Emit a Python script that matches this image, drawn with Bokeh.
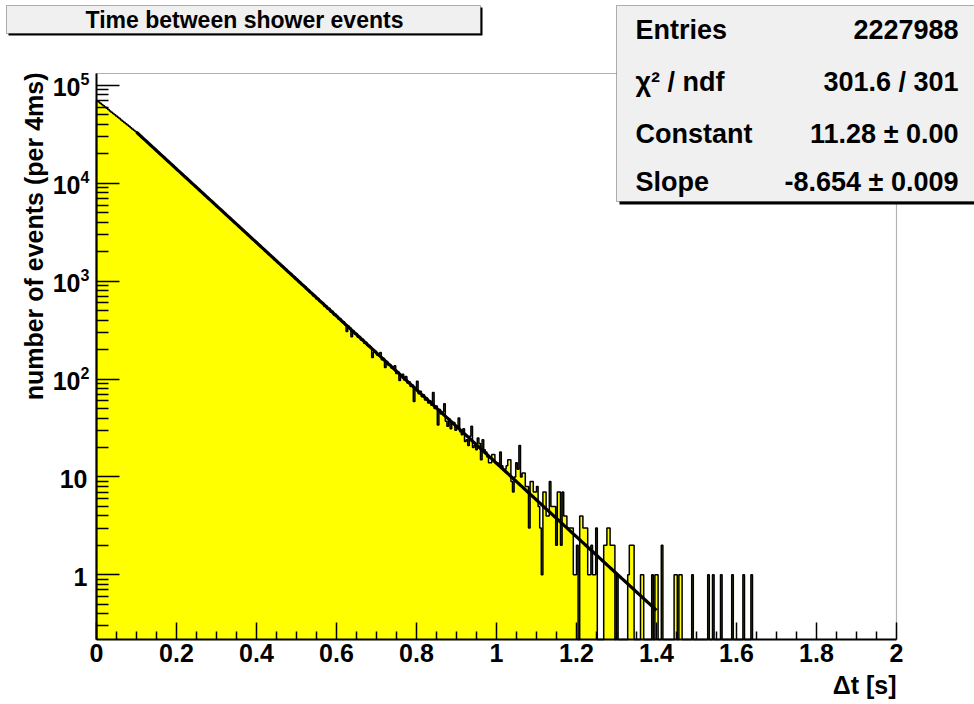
import math
import numpy as np
from bokeh.plotting import figure
from bokeh.models import Range1d, FixedTicker, Label, BoxAnnotation
from bokeh.embed import file_html
from bokeh.resources import INLINE

# ---------------------------------------------------------------- data
BIN_WIDTH = 0.004  # seconds per bin (4 ms)

# events per 4 ms bin, starting at dt = 0
counts = [
    70000, 67900, 65900, 63900, 62000, 60200, 58400, 56700, 55000, 53300,
    51800, 50200, 48700, 47300, 45900, 44500, 43200, 41900, 40700, 39500,
    38300, 37100, 36000, 34900, 33900, 32800, 31600, 30600, 29500, 28500,
    27560, 26640, 25710, 24850, 24000, 23190, 22380, 21640, 20890, 20190,
    19510, 18830, 18200, 17570, 16990, 16390, 15850, 15300, 14790, 14270,
    13800, 13320, 12880, 12430, 12020, 11600, 11210, 10820, 10460, 10100,
    9760, 9420, 9110, 8790, 8500, 8200, 7930, 7650, 7400, 7140,
    6900, 6670, 6440, 6220, 6010, 5800, 5610, 5410, 5240, 5050,
    4880, 4720, 4550, 4400, 4260, 4100, 3970, 3830, 3700, 3580,
    3450, 3340, 3220, 3110, 3010, 2900, 2810, 2710, 2620, 2530,
    2451, 2347, 2289, 2196, 2139, 2041, 1992, 1905, 1866, 1781,
    1735, 1652, 1627, 1549, 1518, 1440, 1411, 1349, 1322, 1254,
    1209, 1196, 1128, 1117, 1052, 1041, 983, 972, 915, 905,
    878, 821, 815, 767, 761, 712, 715, 664, 668, 621,
    605, 603, 556, 561, 520, 528, 484, 492, 451, 459,
    441, 409, 412, 383, 385, 357, 306, 347, 334, 270,
    312, 289, 293, 268, 272, 251, 255, 233, 238, 219,
    221, 213, 166, 188, 192, 176, 180, 187, 158, 162,
    131, 151, 139, 141, 130, 132, 137, 114, 119, 97,
    110, 112, 98, 106, 91, 94, 84, 87, 59, 81,
    95, 71, 75, 66, 69, 61, 64, 57, 60, 54,
    73, 50, 53, 34, 49, 44, 46, 56, 37, 33,
    39, 31, 35, 36, 30, 33, 40, 29, 27, 31,
    23, 24, 21, 26, 33, 20, 21, 19, 25, 22,
    15, 24, 19, 18, 16, 14, 14, 17, 17, 14,
    14, 13, 18, 13, 12, 12, 13, 15, 15, 9,
    7, 10, 14, 12, 21, 10, 11, 11, 8, 8,
    3, 9, 9, 7, 7, 8, 5, 3, 1, 7,
    7, 4, 4, 9, 5, 5, 5, 2, 7, 7,
    2, 7, 4, 4, 3, 3, 3, 3, 1, 1,
    2, 0, 4, 4, 3, 3, 3, 1, 1, 2,
    1, 1, 3, 0, 0, 0, 0, 2, 2, 3,
    3, 2, 2, 2, 0, 1, 0, 0, 0, 0,
    0, 0, 1, 2, 2, 2, 0, 0, 0, 0,
    1, 1, 0, 0, 0, 0, 0, 1, 0, 1,
    1, 0, 0, 2, 0, 0, 0, 0, 0, 0,
    0, 1, 1, 0, 1, 1, 0, 0, 0, 0,
    0, 0, 1, 0, 0, 0, 0, 0, 0, 0,
    0, 0, 1, 0, 0, 1, 0, 0, 0, 0,
    1, 0, 0, 0, 0, 0, 0, 1, 0, 0,
    0, 0, 0, 0, 1, 0, 0, 0, 0, 1,
]

# exponential fit: exp(constant + slope * dt), fitted over 0.1 .. 1.4 s
fit_constant = 11.28
fit_constant_err = 0.00
fit_slope = -8.654
fit_slope_err = 0.009
fit_range = (0.1, 1.4)
entries = 2227988
chi2 = 301.6
ndf = 301

x_ticks = [0, 0.2, 0.4, 0.6, 0.8, 1, 1.2, 1.4, 1.6, 1.8, 2]
x_tick_labels = ["0", "0.2", "0.4", "0.6", "0.8", "1", "1.2", "1.4", "1.6", "1.8", "2"]
y_decades = [0, 1, 2, 3, 4, 5]

title_text = "Time between shower events"
x_title = "\u0394t [s]"
y_title = "number of events (per 4ms)"

# ---------------------------------------------------------------- layout
W, H = 974, 704
FL, FR, FT, FB = 96, 896, 73, 639        # histogram frame in canvas pixels
X_MIN, X_MAX = 0.0, 2.0
Y_MIN, Y_MAX = 0.2183, 1.326e5
FONT = "Liberation Sans"

# The plotting area spans the whole canvas so that the pads drawn around
# the histogram frame (title, statistics box, axis titles) are not clipped.
x_per_px = (X_MAX - X_MIN) / (FR - FL)
dec_per_px = (math.log10(Y_MAX) - math.log10(Y_MIN)) / (FB - FT)
x_lo = X_MIN - FL * x_per_px
x_hi = X_MAX + (W - FR) * x_per_px
y_lo = 10 ** (math.log10(Y_MIN) - (H - FB) * dec_per_px)
y_hi = 10 ** (math.log10(Y_MAX) + FT * dec_per_px)


def sx(px):
    """canvas x pixel -> screen units"""
    return px


def sy(py):
    """canvas y pixel (from top) -> screen units (from bottom)"""
    return H - py


p = figure(
    width=W, height=H,
    x_range=Range1d(x_lo, x_hi), y_range=Range1d(y_lo, y_hi),
    y_axis_type="log",
    output_backend="svg", toolbar_location=None,
    min_border=0,
)
p.title.visible = False
p.background_fill_color = "white"
p.border_fill_color = "white"
p.grid.visible = False
p.outline_line_color = None

# ---------------------------------------------------------------- histogram
n = len(counts)
edges = X_MIN + np.arange(n + 1) * BIN_WIDTH
c = np.asarray(counts, dtype=float)
c_draw = np.where(c > 0, c, Y_MIN)        # empty bins drop to the frame floor
step_x = np.concatenate([[edges[0]], np.repeat(edges, 2)[1:-1], [edges[-1]]])
step_y = np.concatenate([[Y_MIN], np.repeat(c_draw, 2), [Y_MIN]])

p.patch(step_x, step_y, fill_color="#ffff00", line_color=None)
p.line(step_x, step_y, line_color="black", line_width=1.5)

# fit curve
fx = np.linspace(fit_range[0], fit_range[1], 300)
fy = np.exp(fit_constant + fit_slope * fx)
p.line(fx, fy, line_color="black", line_width=3.2)

# frame of the histogram pad
p.add_layout(BoxAnnotation(left=X_MIN, right=X_MAX, bottom=Y_MIN, top=Y_MAX,
                           fill_alpha=0, line_color="black", line_width=1.2))

# ---------------------------------------------------------------- axes
xa = p.xaxis[0]
xa.fixed_location = Y_MIN
xa.bounds = (X_MIN, X_MAX)
xa.ticker = FixedTicker(
    ticks=x_ticks,
    minor_ticks=[round(0.05 * i, 2) for i in range(41) if i % 4],
)
xa.major_label_overrides = {t: s for t, s in zip(x_ticks, x_tick_labels)}
xa.major_tick_in = 17
xa.major_tick_out = 0
xa.minor_tick_in = 8
xa.minor_tick_out = 0
xa.axis_line_width = 2
xa.major_tick_line_width = 1.5
xa.minor_tick_line_width = 1.5
xa.major_label_text_font = FONT
xa.major_label_text_font_style = "bold"
xa.major_label_text_font_size = "25px"
xa.major_label_text_color = "black"
xa.major_label_standoff = 4

ya = p.yaxis[0]
ya.fixed_location = X_MIN
ya.bounds = (Y_MIN, Y_MAX)
y_minor = [m * 10 ** k for k in range(-1, 6) for m in range(2, 10)]
ya.ticker = FixedTicker(
    ticks=[10 ** k for k in y_decades],
    minor_ticks=[v for v in y_minor if Y_MIN < v < Y_MAX],
)
ya.major_tick_in = 23
ya.major_tick_out = 0
ya.minor_tick_in = 12
ya.minor_tick_out = 0
ya.axis_line_width = 2
ya.major_tick_line_width = 1.5
ya.minor_tick_line_width = 1.5
ya.major_label_text_alpha = 0   # decade labels are drawn below as 10 + exponent


def text_label(**kw):
    base = dict(text_font=FONT, text_font_style="bold", text_color="black")
    base.update(kw)
    return Label(**base)


# decade labels: 1, 10, 10^2 ... 10^5
for k in y_decades:
    if k < 2:
        p.add_layout(text_label(x=X_MIN, y=10 ** k, x_offset=-9, y_offset=-2,
                                text="1" if k == 0 else "10",
                                text_font_size="25px", text_align="right",
                                text_baseline="middle"))
    else:
        p.add_layout(text_label(x=X_MIN, y=10 ** k, x_offset=-16, y_offset=-2,
                                text="10", text_font_size="25px",
                                text_align="right", text_baseline="middle"))
        p.add_layout(text_label(x=X_MIN, y=10 ** k, x_offset=-16, y_offset=6,
                                text=str(k), text_font_size="16px",
                                text_align="left", text_baseline="middle"))

# axis titles
p.add_layout(text_label(x=X_MAX, y=sy(684), y_units="screen", text=x_title,
                        text_font_size="25px", text_align="right",
                        text_baseline="middle"))
p.add_layout(text_label(x=sx(33), y=sy(72), x_units="screen", y_units="screen",
                        angle=math.pi / 2, text=y_title,
                        text_font_size="25px", text_align="right",
                        text_baseline="middle"))


# ---------------------------------------------------------------- pads
def panel(left, top, right, bottom, shadow):
    p.add_layout(BoxAnnotation(
        left=sx(left + shadow), right=sx(right + shadow),
        top=sy(top + shadow), bottom=sy(bottom + shadow),
        left_units="screen", right_units="screen",
        top_units="screen", bottom_units="screen",
        fill_color="black", fill_alpha=1, line_color=None, level="overlay"))
    p.add_layout(BoxAnnotation(
        left=sx(left), right=sx(right), top=sy(top), bottom=sy(bottom),
        left_units="screen", right_units="screen",
        top_units="screen", bottom_units="screen",
        fill_color="#f0f0f0", fill_alpha=1, line_color="black",
        line_width=1, level="overlay"))


panel(6, 5, 480, 33, 2)
p.add_layout(text_label(x=sx(244), y=sy(19), x_units="screen", y_units="screen",
                        text=title_text, text_font_size="23px",
                        text_align="center", text_baseline="middle",
                        level="overlay"))

panel(616, 5, 990, 201, 3)
stat_rows = [
    ("Entries", f"{entries}"),
    ("\u03c7\u00b2 / ndf", f"{chi2:.1f} / {ndf}"),
    ("Constant", f"{fit_constant:.2f} \u00b1 {fit_constant_err:.2f}"),
    ("Slope", f"{fit_slope:.3f} \u00b1 {fit_slope_err:.3f}"),
]
row_y = [29, 81, 133, 181]
for (name, val), yy in zip(stat_rows, row_y):
    p.add_layout(text_label(x=sx(635), y=sy(yy), x_units="screen", y_units="screen",
                            text=name, text_font_size="27px", text_align="left",
                            text_baseline="middle", level="overlay"))
    p.add_layout(text_label(x=sx(958), y=sy(yy), x_units="screen", y_units="screen",
                            text=val, text_font_size="27px", text_align="right",
                            text_baseline="middle", level="overlay"))

open("out.html", "w").write(file_html(p, INLINE))
